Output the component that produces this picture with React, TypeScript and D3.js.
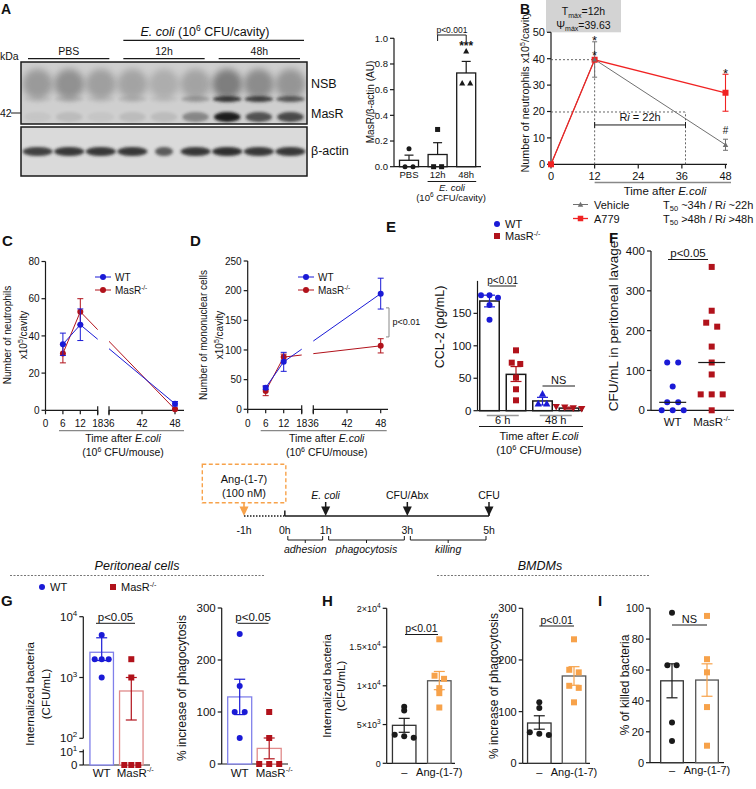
import React from 'react';
import * as d3 from 'd3';

const FONT = "'Liberation Sans', Arial, Helvetica, sans-serif";
const BLUE = '#1a1ad6';
const DRED = '#b1121b';
const ORANGE = '#f7a24a';
const RED = '#f02323';
const VGRAY = '#707070';
const K = '#1a1a1a';

// ---------------- DATA ----------------
// A: western blot – relative darkness of bands per lane
const blotLanes = ['PBS-1', 'PBS-2', 'PBS-3', '12h-1', '12h-2', '12h-3', '48h-1', '48h-2', '48h-3'];
const blotSmear = [0.55, 0.65, 0.5, 0.45, 0.35, 0.45, 0.85, 0.7, 0.6];
const blotNSB = [0.05, 0.1, 0.05, 0.1, 0.05, 0.25, 0.85, 0.8, 0.65];
const blotMasR = [0.05, 0.1, 0.05, 0.1, 0.1, 0.4, 1, 0.7, 0.75];
const blotActin = [0.85, 0.9, 0.9, 0.9, 0.7, 0.9, 0.95, 0.9, 0.9];
const blotGroups = ['PBS', '12h', '48h'];

// A: quantification
const aCats = ['PBS', '12h', '48h'];
const aMean = [0.05, 0.095, 0.73];
const aErrTop = [0.09, 0.187, 0.82];
const aPts = [[0.14, 0, 0], [0.29, 0, 0], [0.9, 0.65, 0.65]];
const aTicks = [0, 0.2, 0.4, 0.6, 0.8, 1.0];

// B
const bTimes = [0, 12, 48];
const bVehicle = [0, 39.7, 7.4];
const bVehicleErr = [0, 6.7, 2.1];
const bA779 = [0, 39.6, 27.1];
const bA779Err = [0, 0.5, 7];
const bTicksX = [0, 12, 24, 36, 48];
const bTicksY = [0, 10, 20, 30, 40, 50];
const bTmax = 12;
const bPsiMax = 39.63;
const bT50 = 37;
const bRiLevel = 14.9;
const bMarks = [
  { t: 12, v: 48.1, s: '*' },
  { t: 12, v: 42.4, s: '*' },
  { t: 48, v: 35.5, s: '*' },
  { t: 48, v: 12.7, s: '#' },
];

// C
const cTimes = [6, 12, 48];
const cWT = [35.5, 46, 3.5];
const cWTErr = [6, 8.5, 1.2];
const cMas = [30.5, 53, 0.5];
const cMasErr = [5, 7, 0.6];
const cTicksY = [0, 20, 40, 60, 80];
const xTicksA = [0, 6, 12, 18];
const xTicksB = [36, 42, 48];

// D
const dWT = [36.5, 80, 195];
const dWTErr = [3, 16, 26];
const dMas = [31, 88, 107];
const dMasErr = [8, 5, 12];
const dTicksY = [0, 50, 100, 150, 200, 250];
const dBracket = [122, 171];

// E
const eBars = ['WT 6 h', 'MasR 6 h', 'WT 48 h', 'MasR 48 h'];
const eMean = [169, 56, 15, 4];
const eErrTop = [178, 68, 20.6, 5.5];
const eErrBot = [160, 45, 8.8, 2.5];
const ePts = [[178, 174, 178, 163, 140], [93, 74, 72, 51, 33, 16], [26, 11, 11], [5, 6, 4, 3]];
const eTicksY = [0, 50, 100, 150];
const eGroups = ['6 h', '48 h'];

// F
const fCats = ['WT', 'MasR'];
const fWT = [0, 0, 0, 20, 20, 60, 120, 120];
const fMas = [0, 40, 40, 40, 90, 120, 160, 210, 220, 250, 360];
const fTicksY = [0, 100, 200, 300, 400];

// Timeline
const tlHours = [-1, 0, 1, 3, 5];
const tlEvents = [
  { h: 1, label: 'E. coli' },
  { h: 3, label: 'CFU/Abx' },
  { h: 5, label: 'CFU' },
];
const tlPhases = [
  { a: 0, b: 1, label: 'adhesion' },
  { a: 1, b: 3, label: 'phagocytosis' },
  { a: 3, b: 5, label: 'killing' },
];

// G
const gCats = ['WT', 'MasR'];
const gCfuMean = [2600, 600];
const gCfuErrTop = [4500, 1000];
const gCfuErrBot = [1900, 200];
const gCfuPts = [[5000, 2000, 2000, 2000, 1000], [2000, 1000, 0, 0, 0]];
const gPhMean = [129, 30];
const gPhErrTop = [163, 50];
const gPhErrBot = [95, 10];
const gPhPts = [[250, 150, 100, 100, 50], [100, 50, 0, 0, 0]];
const gPhTicks = [0, 100, 200, 300];

// H
const hCats = ['–', 'Ang-(1-7)'];
const hCfuMean = [4900, 10650];
const hCfuErrTop = [5800, 11850];
const hCfuErrBot = [4000, 9500];
const hCfuPts = [[7300, 6800, 3700, 3500, 3300], [16000, 11300, 10900, 9700, 9050, 7200]];
const hCfuTicks = [0, 5000, 10000, 15000, 20000];
const hCfuTickLabels = [['0', ''], ['5×10', '3'], ['1×10', '4'], ['1.5×10', '4'], ['2×10', '4']];
const hPhMean = [78, 169];
const hPhErrTop = [92, 187];
const hPhErrBot = [66, 151];
const hPhPts = [[118, 107, 60, 57, 55], [240, 181, 176, 150, 146, 118]];
const hPhTicks = [0, 100, 200, 300];

// I
const iMean = [53, 53.5];
const iErrTop = [64, 64];
const iErrBot = [42, 43];
const iPts = [[97, 63, 63, 26, 14], [95, 67, 58.5, 36, 11]];
const iTicks = [0, 20, 40, 60, 80, 100];

// ---------------- HELPERS ----------------
function swarm(vals: number[], ypx: (v: number) => number, s: number, thr: number) {
  const order = vals.map((_, i) => i).sort((a, b) => vals[b] - vals[a]);
  const off = vals.map(() => 0);
  let cl: number[] = [];
  const flush = () => {
    cl.forEach((id, k) => {
      off[id] = (k - (cl.length - 1) / 2) * s;
    });
    cl = [];
  };
  order.forEach((id) => {
    if (cl.length && Math.abs(ypx(vals[id]) - ypx(vals[cl[cl.length - 1]])) > thr) flush();
    cl.push(id);
  });
  flush();
  return off;
}

function Mk({ shape, x, y, s = 5.5, c }: any) {
  if (shape === 'circle') return <circle cx={x} cy={y} r={s / 2} fill={c} />;
  if (shape === 'square') return <rect x={x - s / 2} y={y - s / 2} width={s} height={s} fill={c} />;
  const h = s * 1.05;
  if (shape === 'tri')
    return <path d={`M${x},${y - h * 0.6}L${x + h * 0.58},${y + h * 0.45}L${x - h * 0.58},${y + h * 0.45}Z`} fill={c} />;
  return <path d={`M${x},${y + h * 0.6}L${x + h * 0.58},${y - h * 0.45}L${x - h * 0.58},${y - h * 0.45}Z`} fill={c} />;
}

function YAxis({ x, y, ticks, fmt, fs = 10, y0, y1, tl = 4 }: any) {
  const r = y.range ? y.range() : [0, 0];
  return (
    <g>
      <line x1={x} x2={x} y1={y0 ?? r[0]} y2={y1 ?? r[1]} stroke={K} strokeWidth={1.2} />
      {ticks.map((t: number, i: number) => (
        <g key={i}>
          <line x1={x - tl} x2={x} y1={y(t)} y2={y(t)} stroke={K} strokeWidth={1.2} />
          <text x={x - tl - 2} y={y(t)} dy="0.36em" textAnchor="end" fontSize={fs}>
            {fmt ? fmt(t, i) : t}
          </text>
        </g>
      ))}
    </g>
  );
}

function VLabel({ cx, cy, fs = 10, children, ...rest }: any) {
  return (
    <text transform={`translate(${cx + fs * 0.36},${cy}) rotate(-90)`} textAnchor="middle" fontSize={fs} {...rest}>
      {children}
    </text>
  );
}

function ErrBar({ x, yA, yB, cw, c, sw = 1.2 }: any) {
  return (
    <g stroke={c} strokeWidth={sw}>
      <line x1={x} x2={x} y1={yA} y2={yB} />
      <line x1={x - cw / 2} x2={x + cw / 2} y1={yB} y2={yB} />
    </g>
  );
}

function DotBars({ cats, xc, y, base, mean, errTop, errBot, pts, bw, stroke, errC, shape, mc, s, thr, ms = 5.5, cw, sw = 1.3 }: any) {
  return (
    <g>
      {cats.map((c: string, i: number) => {
        const cx = xc(c);
        const top = y(mean[i]);
        const offs = swarm(pts[i], y, s, thr);
        return (
          <g key={c}>
            <rect x={cx - bw / 2} y={top} width={bw} height={base - top} fill="#fff" stroke={stroke[i]} strokeWidth={sw} />
            {pts[i].map((v: number, j: number) => (
              <Mk key={j} shape={shape[i]} x={cx + offs[j]} y={y(v)} s={ms} c={mc[i]} />
            ))}
            <ErrBar x={cx} yA={top} yB={y(errTop[i])} cw={cw ?? bw * 0.5} c={errC[i]} />
            {errBot && errBot[i] != null && <ErrBar x={cx} yA={top} yB={y(errBot[i])} cw={cw ?? bw * 0.5} c={errC[i]} />}
          </g>
        );
      })}
    </g>
  );
}

function XAxisLine({ x0, x1, y }: any) {
  return <line x1={x0} x2={x1} y1={y} y2={y} stroke={K} strokeWidth={1.2} />;
}

function PVal({ x0, x1, y, text, fs = 10, legs = 0 }: any) {
  return (
    <g>
      <path d={`M${x0},${y + legs}V${y}H${x1}V${y + legs}`} fill="none" stroke={K} strokeWidth={1} />
      <text x={(x0 + x1) / 2} y={y - 2.5} textAnchor="middle" fontSize={fs}>
        {text}
      </text>
    </g>
  );
}

const MasRLabel = ({ fs = 10 }: any) => (
  <>
    <tspan>MasR</tspan>
    <tspan dy={-fs * 0.4} fontSize={fs * 0.65}>
      -/-
    </tspan>
  </>
);

// ---------------- PANELS ----------------
function PanelA() {
  const lane = d3.scaleBand().domain(blotLanes).range([21, 307]).padding(0.05);
  const grp = d3.scaleBand().domain(blotGroups).range([21, 307]).padding(0);
  return (
    <g>
      <defs>
        <filter id="bl3" x="-50%" y="-50%" width="200%" height="200%">
          <feGaussianBlur stdDeviation="3.5" />
        </filter>
        <filter id="bl1" x="-50%" y="-50%" width="200%" height="200%">
          <feGaussianBlur stdDeviation="1.6" />
        </filter>
        <clipPath id="blotTop">
          <rect x={21} y={62} width={286} height={62} />
        </clipPath>
        <clipPath id="blotBot">
          <rect x={21} y={127} width={286} height={49} />
        </clipPath>
      </defs>
      <text x={1} y={14} fontSize={14} fontWeight="bold">A</text>
      <text x={205} y={36} textAnchor="middle" fontSize={12.5}>
        <tspan fontStyle="italic">E. coli</tspan>
        <tspan> (10</tspan>
        <tspan dy={-5} fontSize={8.5}>6</tspan>
        <tspan dy={5}> CFU/cavity)</tspan>
      </text>
      <line x1={grp('12h')! + 7} x2={307 - 3} y1={40.3} y2={40.3} stroke={K} strokeWidth={1.2} />
      <text x={0} y={60} fontSize={10.5}>kDa</text>
      {blotGroups.map((g) => (
        <g key={g}>
          <text x={grp(g)! + grp.bandwidth() / 2} y={55} textAnchor="middle" fontSize={10.5}>
            {g}
          </text>
          <line x1={grp(g)! + 7} x2={grp(g)! + grp.bandwidth() - 7} y1={58.7} y2={58.7} stroke={K} strokeWidth={1.2} />
        </g>
      ))}
      <g clipPath="url(#blotTop)">
        <rect x={21} y={62} width={286} height={62} fill="#cfcfcf" />
        {blotLanes.map((l, i) => (
          <g key={l}>
            <ellipse cx={lane(l)! + lane.bandwidth() / 2} cy={84} rx={lane.bandwidth() * 0.5} ry={15} fill="#707070" opacity={blotSmear[i]} filter="url(#bl3)" />
            <ellipse cx={lane(l)! + lane.bandwidth() / 2} cy={99} rx={lane.bandwidth() * 0.48} ry={3} fill="#222" opacity={blotNSB[i]} filter="url(#bl1)" />
            <ellipse cx={lane(l)! + lane.bandwidth() / 2} cy={117} rx={lane.bandwidth() * 0.44} ry={5} fill="#1a1a1a" opacity={blotMasR[i]} filter="url(#bl1)" />
          </g>
        ))}
      </g>
      <rect x={21} y={62} width={286} height={62} fill="none" stroke={K} strokeWidth={1.5} />
      <g clipPath="url(#blotBot)">
        <rect x={21} y={127} width={286} height={49} fill="#dadada" />
        {blotLanes.map((l, i) => (
          <ellipse key={l} cx={lane(l)! + lane.bandwidth() / 2} cy={151.5} rx={lane.bandwidth() * (i === 4 ? 0.3 : 0.5)} ry={4.5} fill="#262626" opacity={blotActin[i]} filter="url(#bl1)" />
        ))}
      </g>
      <rect x={21} y={127} width={286} height={49} fill="none" stroke={K} strokeWidth={1.5} />
      <text x={0} y={117} fontSize={10.5}>42</text>
      <line x1={11} x2={21} y1={113} y2={113} stroke={K} strokeWidth={1} />
      <text x={311} y={88} fontSize={12.5}>NSB</text>
      <text x={311} y={118} fontSize={12.5}>MasR</text>
      <text x={311} y={155} fontSize={12.5}>β-actin</text>
    </g>
  );
}

function PanelAQuant() {
  const y = d3.scaleLinear().domain([0, 1]).range([166.7, 38.3]);
  const xc = d3.scalePoint().domain(aCats).range([409, 466.2]);
  const fmt = d3.format('.1f');
  return (
    <g>
      <YAxis x={394} y={y} ticks={aTicks} fmt={(t: number) => fmt(t)} fs={9.5} />
      <XAxisLine x0={394} x1={481} y={166.7} />
      <DotBars cats={aCats} xc={xc} y={y} base={166.7} mean={aMean} errTop={aErrTop} pts={aPts} bw={19} stroke={[K, K, K]} errC={[K, K, K]} shape={['circle', 'square', 'tri']} mc={[K, K, K]} s={8} thr={3} ms={5} cw={9} />
      {aCats.map((c) => (
        <text key={c} x={xc(c)} y={178} textAnchor="middle" fontSize={9.5}>
          {c}
        </text>
      ))}
      <line x1={xc('12h')! - 10} x2={xc('48h')! + 10} y1={181.5} y2={181.5} stroke={K} strokeWidth={1} />
      <text x={452} y={191} textAnchor="middle" fontSize={9.5} fontStyle="italic">E. coli</text>
      <text x={451} y={201} textAnchor="middle" fontSize={9.5}>
        <tspan>(10</tspan>
        <tspan dy={-4} fontSize={6.5}>6</tspan>
        <tspan dy={4}> CFU/cavity)</tspan>
      </text>
      <PVal x0={xc('12h')} x1={xc('48h')} y={35} text="p<0.001" fs={8.5} legs={6} />
      <text x={xc('48h')} y={y(0.96) + 7} textAnchor="middle" fontSize={12} fontWeight="bold">***</text>
      <VLabel cx={370} cy={102} fs={10}>MasR/β-actin (AU)</VLabel>
    </g>
  );
}

function PanelB() {
  const x = d3.scaleLinear().domain([0, 48]).range([551, 725.5]);
  const y = d3.scaleLinear().domain([0, 50]).range([164.3, 32.3]);
  const line = d3.line<number>().x((_, i) => x(bTimes[i])).y((d) => y(d));
  const dash = { stroke: '#555', strokeWidth: 0.9, strokeDasharray: '2,2' };
  return (
    <g>
      <text x={520} y={14} fontSize={14} fontWeight="bold">B</text>
      <rect x={546} y={0} width={75} height={32.3} fill="#d3d3d3" />
      <text x={583.5} y={15} textAnchor="middle" fontSize={10.5}>
        <tspan>T</tspan>
        <tspan dy={2.5} fontSize={7}>máx</tspan>
        <tspan dy={-2.5}>={bTmax}h</tspan>
      </text>
      <text x={583.5} y={28.5} textAnchor="middle" fontSize={10.5}>
        <tspan>Ψ</tspan>
        <tspan dy={2.5} fontSize={7}>máx</tspan>
        <tspan dy={-2.5}>={bPsiMax}</tspan>
      </text>
      <YAxis x={551} y={y} ticks={bTicksY} fs={11} />
      <XAxisLine x0={551} x1={727} y={164.3} />
      {bTicksX.map((t) => (
        <g key={t}>
          <line x1={x(t)} x2={x(t)} y1={164.3} y2={168.5} stroke={K} strokeWidth={1.2} />
          <text x={x(t)} y={180} textAnchor="middle" fontSize={11}>
            {t}
          </text>
        </g>
      ))}
      <line x1={x(12)} x2={731} y1={182.5} y2={182.5} stroke="#888" strokeWidth={1.3} />
      <text x={665} y={194.5} textAnchor="middle" fontSize={11.5}>
        <tspan>Time after </tspan>
        <tspan fontStyle="italic">E.coli</tspan>
      </text>
      <VLabel cx={525} cy={92} fs={10.8}>
        <tspan>Number of neutrophils x10</tspan>
        <tspan dy={-4} fontSize={7}>5</tspan>
        <tspan dy={4}>/cavity</tspan>
      </VLabel>
      {/* reference lines */}
      <line x1={551} x2={x(bTmax)} y1={y(bPsiMax)} y2={y(bPsiMax)} {...dash} />
      <line x1={x(bTmax)} x2={x(bTmax)} y1={y(0)} y2={y(bPsiMax)} {...dash} />
      <line x1={551} x2={x(bT50)} y1={y(bPsiMax / 2)} y2={y(bPsiMax / 2)} {...dash} />
      <line x1={x(bT50)} x2={x(bT50)} y1={y(0)} y2={y(bPsiMax / 2)} {...dash} />
      <path d={`M${x(bTmax)},${y(bRiLevel) - 3}V${y(bRiLevel) + 3}M${x(bTmax)},${y(bRiLevel)}H${x(bT50)}M${x(bT50)},${y(bRiLevel) - 3}V${y(bRiLevel) + 3}`} stroke={K} strokeWidth={1} fill="none" />
      <text x={(x(bTmax) + x(bT50)) / 2} y={y(bRiLevel) - 3.5} textAnchor="middle" fontSize={11}>
        <tspan>R</tspan>
        <tspan fontStyle="italic">i</tspan>
        <tspan> = 22h</tspan>
      </text>
      {/* series */}
      <path d={line(bVehicle)!} fill="none" stroke={VGRAY} strokeWidth={1} />
      <path d={line(bA779)!} fill="none" stroke={RED} strokeWidth={1.3} />
      {bTimes.map((t, i) => (
        <g key={t}>
          {bVehicleErr[i] > 0 && (
            <>
              <ErrBar x={x(t)} yA={y(bVehicle[i])} yB={y(bVehicle[i] + bVehicleErr[i])} cw={5} c={VGRAY} sw={1} />
              <ErrBar x={x(t)} yA={y(bVehicle[i])} yB={y(bVehicle[i] - bVehicleErr[i])} cw={5} c={VGRAY} sw={1} />
            </>
          )}
          {bA779Err[i] > 1 && (
            <>
              <ErrBar x={x(t)} yA={y(bA779[i])} yB={y(bA779[i] + bA779Err[i])} cw={6} c={RED} sw={1.1} />
              <ErrBar x={x(t)} yA={y(bA779[i])} yB={y(bA779[i] - bA779Err[i])} cw={6} c={RED} sw={1.1} />
            </>
          )}
          <Mk shape="tri" x={x(t)} y={y(bVehicle[i])} s={4.5} c={VGRAY} />
          <Mk shape="square" x={x(t)} y={y(bA779[i])} s={6} c={RED} />
        </g>
      ))}
      <Mk shape="tri" x={x(12)} y={y(bVehicle[1])} s={4} c={VGRAY} />
      {bMarks.map((m, i) => (
        <text key={i} x={x(m.t)} y={y(m.v) + (m.s === '*' ? 7.5 : 3.5)} textAnchor="middle" fontSize={m.s === '*' ? 13 : 10}>
          {m.s}
        </text>
      ))}
      {/* legend */}
      <line x1={573} x2={588} y1={204.5} y2={204.5} stroke={VGRAY} strokeWidth={1} />
      <Mk shape="tri" x={580.5} y={204.5} s={4.5} c={VGRAY} />
      <text x={594} y={208.5} fontSize={11}>Vehicle</text>
      <text x={663} y={208.5} fontSize={11}>
        <tspan>T</tspan>
        <tspan dy={2.5} fontSize={7.5}>50</tspan>
        <tspan dy={-2.5}> ~34h / R</tspan>
        <tspan fontStyle="italic">i</tspan>
        <tspan> ~22h</tspan>
      </text>
      <line x1={573} x2={588} y1={218.5} y2={218.5} stroke={RED} strokeWidth={1.3} />
      <Mk shape="square" x={580.5} y={218.5} s={5.5} c={RED} />
      <text x={594} y={222.5} fontSize={11}>A779</text>
      <text x={663} y={222.5} fontSize={11}>
        <tspan>T</tspan>
        <tspan dy={2.5} fontSize={7.5}>50</tspan>
        <tspan dy={-2.5}> &gt;48h / R</tspan>
        <tspan fontStyle="italic">i</tspan>
        <tspan> &gt;48h</tspan>
      </text>
    </g>
  );
}

function BrokenPanel({ id, letter, lx, y, x1, x2, yTicks, seg2End, series, legendX, ylab1, ylabX, titleX, grayLine, children }: any) {
  const x = (t: number) => (t <= 18 ? x1(t) : x2(t));
  const y0 = y(0);
  const ax = x1(0);
  const brk1 = x1(18);
  const brk2 = x2(36);
  const line = d3.line<any>().x((d) => x(d[0])).y((d) => y(d[1]));
  return (
    <g>
      <defs>
        <clipPath id={id}>
          <rect x={0} y={0} width={brk1} height={789} />
          <rect x={brk2} y={0} width={756 - brk2} height={789} />
        </clipPath>
      </defs>
      <text x={lx} y={246} fontSize={15} fontWeight="bold">{letter}</text>
      <YAxis x={ax} y={y} ticks={yTicks} fs={10} />
      <XAxisLine x0={ax} x1={brk1} y={y0} />
      <XAxisLine x0={brk2} x1={seg2End} y={y0} />
      {[brk1, brk2].map((bx, i) => (
        <line key={i} x1={bx} x2={bx} y1={y0 - 4} y2={y0 + 5} stroke={K} strokeWidth={1.2} />
      ))}
      {[...xTicksA, ...xTicksB].map((t) => (
        <g key={t}>
          <line x1={x(t)} x2={x(t)} y1={y0} y2={y0 + 4} stroke={K} strokeWidth={1.2} />
          <text x={x(t)} y={426.5} textAnchor="middle" fontSize={10}>
            {t}
          </text>
        </g>
      ))}
      <line x1={grayLine[0]} x2={grayLine[1]} y1={430.7} y2={430.7} stroke="#888" strokeWidth={1.3} />
      <text x={titleX} y={441.5} textAnchor="middle" fontSize={10.5}>
        <tspan>Time after </tspan>
        <tspan fontStyle="italic">E.coli</tspan>
      </text>
      <text x={titleX} y={456} textAnchor="middle" fontSize={10.5}>
        <tspan>(10</tspan>
        <tspan dy={-4} fontSize={7}>6</tspan>
        <tspan dy={4}> CFU/mouse)</tspan>
      </text>
      <VLabel cx={ylabX[0]} cy={335} fs={10}>{ylab1}</VLabel>
      <VLabel cx={ylabX[1]} cy={335} fs={10}>
        <tspan>x10</tspan>
        <tspan dy={-4} fontSize={7}>5</tspan>
        <tspan dy={4}>/cavity</tspan>
      </VLabel>
      {series.map((s: any, k: number) => (
        <g key={k}>
          <path d={line(cTimes.map((t, i) => [t, s.vals[i]]))!} fill="none" stroke={s.color} strokeWidth={1} clipPath={`url(#${id})`} />
          {cTimes.map((t, i) => (
            <g key={t}>
              <ErrBar x={x(t)} yA={y(s.vals[i])} yB={y(s.vals[i] + s.err[i])} cw={6} c={s.color} sw={1} />
              <ErrBar x={x(t)} yA={y(s.vals[i])} yB={y(Math.max(0, s.vals[i] - s.err[i]))} cw={6} c={s.color} sw={1} />
              <Mk shape="circle" x={x(t)} y={y(s.vals[i])} s={6} c={s.color} />
            </g>
          ))}
        </g>
      ))}
      {/* legend */}
      {[
        { c: BLUE, label: 'WT', yy: 277 },
        { c: DRED, label: 'MasR', yy: 290 },
      ].map((l) => (
        <g key={l.label}>
          <line x1={legendX} x2={legendX + 16} y1={l.yy} y2={l.yy} stroke={l.c} strokeWidth={1} />
          <circle cx={legendX + 8} cy={l.yy} r={3} fill={l.c} />
          <text x={legendX + 20} y={l.yy + 3.5} fontSize={10}>
            {l.label === 'WT' ? 'WT' : <MasRLabel fs={10} />}
          </text>
        </g>
      ))}
      {children}
    </g>
  );
}

function PanelC() {
  const y = d3.scaleLinear().domain([0, 80]).range([410.3, 261.5]);
  const x1 = d3.scaleLinear().domain([0, 18]).range([45.5, 97.7]);
  const x2 = d3.scaleLinear().domain([36, 48]).range([109, 175]);
  return (
    <BrokenPanel
      id="clipC" letter="C" lx={2} y={y} x1={x1} x2={x2} yTicks={cTicksY} seg2End={184}
      series={[{ vals: cMas, err: cMasErr, color: DRED }, { vals: cWT, err: cWTErr, color: BLUE }]}
      legendX={95} ylab1="Number of neutrophils" ylabX={[7, 23]} titleX={123} grayLine={[59, 184]}
    />
  );
}

function PanelD() {
  const y = d3.scaleLinear().domain([0, 250]).range([409.3, 261]);
  const x1 = d3.scaleLinear().domain([0, 18]).range([247.7, 301.7]);
  const x2 = d3.scaleLinear().domain([36, 48]).range([313.3, 380.7]);
  return (
    <BrokenPanel
      id="clipD" letter="D" lx={190} y={y} x1={x1} x2={x2} yTicks={dTicksY} seg2End={388}
      series={[{ vals: dMas, err: dMasErr, color: DRED }, { vals: dWT, err: dWTErr, color: BLUE }]}
      legendX={298} ylab1="Number of mononuclear cells" ylabX={[203, 219.3]} titleX={326.7} grayLine={[260.7, 386.7]}
    >
      <path d={`M386,${y(dBracket[1])}H389V${y(dBracket[0])}H386`} fill="none" stroke="#888" strokeWidth={1} />
      <text x={392.5} y={(y(dBracket[0]) + y(dBracket[1])) / 2 + 3} fontSize={9}>p&lt;0.01</text>
    </BrokenPanel>
  );
}

function PanelE() {
  const y = d3.scaleLinear().domain([0, 200]).range([410.7, 280.9]);
  const xb = d3.scalePoint().domain(eBars).range([489.5, 569]);
  const base = y(0);
  const gx = [(xb(eBars[0])! + xb(eBars[1])!) / 2, (xb(eBars[2])! + xb(eBars[3])!) / 2];
  return (
    <g>
      <text x={386} y={232} fontSize={15} fontWeight="bold">E</text>
      <circle cx={497} cy={224} r={3} fill={BLUE} />
      <text x={505} y={228} fontSize={11}>WT</text>
      <rect x={494} y={233} width={6} height={6} fill={DRED} />
      <text x={505} y={240} fontSize={11}><MasRLabel fs={11} /></text>
      <YAxis x={477.5} y={y} ticks={eTicksY} fs={11.5} />
      <XAxisLine x0={477.5} x1={583} y={base} />
      <DotBars
        cats={eBars} xc={xb} y={y} base={base} mean={eMean} errTop={eErrTop} errBot={eErrBot} pts={ePts} bw={19.5}
        stroke={[K, K, K, K]} errC={[BLUE, DRED, BLUE, DRED]} shape={['circle', 'square', 'tri', 'trid']}
        mc={[BLUE, DRED, BLUE, DRED]} s={8.5} thr={3} ms={6} cw={11} sw={1.5}
      />
      {eGroups.map((g, i) => (
        <g key={g}>
          <line x1={gx[i] - 16} x2={gx[i] + 16} y1={415.5} y2={415.5} stroke="#999" strokeWidth={1.5} />
          <text x={gx[i]} y={424} textAnchor="middle" fontSize={11}>{g}</text>
        </g>
      ))}
      <line x1={479} x2={583} y1={426.5} y2={426.5} stroke={K} strokeWidth={1.2} />
      <text x={539} y={440} textAnchor="middle" fontSize={11}>
        <tspan>Time after </tspan>
        <tspan fontStyle="italic">E.coli</tspan>
      </text>
      <text x={539} y={454} textAnchor="middle" fontSize={11}>
        <tspan>(10</tspan>
        <tspan dy={-4} fontSize={7.5}>6</tspan>
        <tspan dy={4}> CFU/mouse)</tspan>
      </text>
      <PVal x0={xb(eBars[0])} x1={xb(eBars[1])} y={286} text="p<0.01" fs={10} />
      <PVal x0={xb(eBars[2])} x1={xb(eBars[3])! + 6} y={386} text="NS" fs={11} />
      <VLabel cx={439} cy={327} fs={12.5}>CCL-2 (pg/mL)</VLabel>
    </g>
  );
}

function PanelF() {
  const y = d3.scaleLinear().domain([0, 400]).range([410.3, 251]);
  const xc = d3.scalePoint().domain(fCats).range([672.7, 711.7]);
  const groups = [
    { c: 'WT', vals: fWT, color: BLUE, shape: 'circle' },
    { c: 'MasR', vals: fMas, color: DRED, shape: 'square' },
  ];
  return (
    <g>
      <text x={609} y={243} fontSize={15} fontWeight="bold">F</text>
      <YAxis x={651} y={y} ticks={fTicksY} fs={11.5} />
      <XAxisLine x0={651} x1={734} y={410.3} />
      {groups.map((g) => {
        const offs = swarm(g.vals, y, 11, 5);
        const med = d3.median(g.vals)!;
        return (
          <g key={g.c}>
            {g.vals.map((v, j) => (
              <Mk key={j} shape={g.shape} x={xc(g.c)! + offs[j]} y={y(v)} s={6} c={g.color} />
            ))}
            <line x1={xc(g.c)! - 13.5} x2={xc(g.c)! + 13.5} y1={y(med)} y2={y(med)} stroke={K} strokeWidth={1.2} />
          </g>
        );
      })}
      <text x={xc('WT')} y={426} textAnchor="middle" fontSize={11.5}>WT</text>
      <text x={xc('MasR')} y={426} textAnchor="middle" fontSize={11.5}><MasRLabel fs={11.5} /></text>
      <PVal x0={668} x1={708} y={259.5} text="p<0.05" fs={11.5} />
      <VLabel cx={613} cy={326} fs={13.5}>CFU/mL in peritoneal lavage</VLabel>
    </g>
  );
}

function Timeline() {
  const x = d3.scaleLinear().domain([-1, 5]).range([244, 489]);
  const yl = 516;
  const tri = (cx: number, yTop: number, yTip: number) => `M${cx - 4.5},${yTop}L${cx + 4.5},${yTop}L${cx},${yTip}Z`;
  return (
    <g fontSize={10.5}>
      <rect x={x(-1) - 41.7} y={464.3} width={x(0) - x(-1) + 42.7} height={38.4} fill="none" stroke={ORANGE} strokeWidth={1.4} strokeDasharray="4,2.5" />
      <text x={x(-1)} y={483} textAnchor="middle" fontSize={11}>Ang-(1-7)</text>
      <text x={x(-1)} y={496.5} textAnchor="middle" fontSize={11}>(100 nM)</text>
      <line x1={x(-1)} x2={x(-1)} y1={502.7} y2={508} stroke={ORANGE} strokeWidth={1.6} />
      <path d={tri(x(-1), 506.5, 516)} fill={ORANGE} />
      <line x1={x(-1)} x2={x(0)} y1={yl} y2={yl} stroke={K} strokeWidth={1.3} strokeDasharray="1.5,1.5" />
      <line x1={x(0)} x2={x(5)} y1={yl} y2={yl} stroke={K} strokeWidth={1.5} />
      {[0, 5].map((h) => (
        <line key={h} x1={x(h)} x2={x(h)} y1={510.5} y2={yl} stroke={K} strokeWidth={1.5} />
      ))}
      {tlEvents.map((e) => (
        <g key={e.label}>
          <text x={x(e.h)} y={499} textAnchor="middle" fontStyle={e.h === 1 ? 'italic' : 'normal'}>{e.label}</text>
          <line x1={x(e.h)} x2={x(e.h)} y1={502} y2={508} stroke={K} strokeWidth={1.5} />
          <path d={tri(x(e.h), 506.5, 516)} fill={K} />
        </g>
      ))}
      {tlHours.map((h) => (
        <text key={h} x={x(h)} y={533.5} textAnchor="middle">{`${h}h`}</text>
      ))}
      {tlPhases.map((p) => {
        const a = x(p.a) + 3;
        const b = x(p.b) - 3;
        return (
          <g key={p.label}>
            <path d={`M${a},536V540H${b}V536M${(a + b) / 2},540V543`} fill="none" stroke={K} strokeWidth={1} />
            <text x={(a + b) / 2} y={553} textAnchor="middle" fontStyle="italic">{p.label}</text>
          </g>
        );
      })}
    </g>
  );
}

function Headers() {
  return (
    <g>
      <text x={137} y={570} textAnchor="middle" fontSize={12.5} fontStyle="italic">Peritoneal cells</text>
      <line x1={10} x2={265} y1={575.5} y2={575.5} stroke="#777" strokeWidth={1} strokeDasharray="2,1.5" />
      <text x={540} y={570} textAnchor="middle" fontSize={12.5} fontStyle="italic">BMDMs</text>
      <line x1={437} x2={650} y1={575.5} y2={575.5} stroke="#777" strokeWidth={1} strokeDasharray="2,1.5" />
      <circle cx={42} cy={587} r={3} fill={BLUE} />
      <text x={50} y={591} fontSize={11}>WT</text>
      <rect x={110} y={584} width={6} height={6} fill={DRED} />
      <text x={121} y={591} fontSize={11}><MasRLabel fs={11} /></text>
    </g>
  );
}

function PanelG() {
  const log = d3.scaleLog().domain([100, 10000]).range([738.3, 616.7]);
  const lin = d3.scaleLinear().domain([0, 10]).range([765, 751.7]);
  const y = (v: number) => (v >= 100 ? log(v) : lin(v));
  const xc = d3.scalePoint().domain(gCats).range([101.7, 131.3]);
  const y2 = d3.scaleLinear().domain([0, 300]).range([764, 608]);
  const xc2 = d3.scalePoint().domain(gCats).range([239.7, 269.2]);
  const sup = (b: string, e: string) => (
    <>
      <tspan>{b}</tspan>
      <tspan dy={-5} fontSize={8}>{e}</tspan>
    </>
  );
  return (
    <g>
      <text x={1} y={606} fontSize={15} fontWeight="bold">G</text>
      {/* left: CFU */}
      <YAxis x={83.3} y={log} ticks={[10000, 1000, 100]} fmt={(t: number) => sup('10', String(Math.round(Math.log10(t))))} fs={11.5} y0={738.3} y1={616.7} />
      <YAxis x={83.3} y={lin} ticks={[10, 0]} fmt={(t: number) => (t === 0 ? '0' : sup('10', '1'))} fs={11.5} y0={765} y1={749.5} />
      <XAxisLine x0={83.3} x1={150} y={765} />
      <DotBars
        cats={gCats} xc={xc} y={y} base={765} mean={gCfuMean} errTop={gCfuErrTop} errBot={gCfuErrBot} pts={gCfuPts} bw={23.5}
        stroke={['#8080ea', '#e08a8a']} errC={[BLUE, DRED]} shape={['circle', 'square']} mc={[BLUE, DRED]} s={7} thr={3.5} ms={6} cw={11}
      />
      <text x={xc('WT')} y={777} textAnchor="middle" fontSize={11.5}>WT</text>
      <text x={xc('MasR')! + 4} y={777} textAnchor="middle" fontSize={11.5}><MasRLabel fs={11.5} /></text>
      <PVal x0={96} x1={135} y={623.3} text="p<0.05" fs={11.5} />
      <VLabel cx={30} cy={694} fs={11.5}>Internalized bacteria</VLabel>
      <VLabel cx={46} cy={694} fs={11.5}>(CFU/mL)</VLabel>
      {/* right: % phagocytosis */}
      <YAxis x={221.7} y={y2} ticks={gPhTicks} fs={11.5} />
      <XAxisLine x0={221.7} x1={288} y={764} />
      <DotBars
        cats={gCats} xc={xc2} y={y2} base={764} mean={gPhMean} errTop={gPhErrTop} errBot={gPhErrBot} pts={gPhPts} bw={24}
        stroke={['#8080ea', '#e08a8a']} errC={[BLUE, DRED]} shape={['circle', 'square']} mc={[BLUE, DRED]} s={10} thr={3.5} ms={6} cw={11}
      />
      <text x={xc2('WT')} y={777} textAnchor="middle" fontSize={11.5}>WT</text>
      <text x={xc2('MasR')! + 5} y={777} textAnchor="middle" fontSize={11.5}><MasRLabel fs={11.5} /></text>
      <PVal x0={237.6} x1={268.5} y={623.3} text="p<0.05" fs={11.5} />
      <VLabel cx={181.7} cy={688} fs={12}>% increase of phagocytosis</VLabel>
    </g>
  );
}

function PanelH() {
  const y = d3.scaleLinear().domain([0, 20000]).range([763.3, 608.3]);
  const xc = d3.scalePoint().domain(hCats).range([404.2, 439.3]);
  const y2 = d3.scaleLinear().domain([0, 300]).range([763.3, 608.3]);
  const xc2 = d3.scalePoint().domain(hCats).range([539.3, 574]);
  return (
    <g>
      <text x={322} y={606} fontSize={15} fontWeight="bold">H</text>
      <YAxis
        x={386.7} y={y} ticks={hCfuTicks} fs={9}
        fmt={(t: number, i: number) => (
          <>
            <tspan>{hCfuTickLabels[i][0]}</tspan>
            {hCfuTickLabels[i][1] && <tspan dy={-4} fontSize={6.5}>{hCfuTickLabels[i][1]}</tspan>}
          </>
        )}
      />
      <XAxisLine x0={386.7} x1={455} y={763.3} />
      <DotBars
        cats={hCats} xc={xc} y={y} base={763.3} mean={hCfuMean} errTop={hCfuErrTop} errBot={hCfuErrBot} pts={hCfuPts} bw={23.5}
        stroke={['#333', '#555']} errC={[K, ORANGE]} shape={['circle', 'square']} mc={[K, ORANGE]} s={9.5} thr={3.5} ms={6} cw={11}
      />
      {hCats.map((c) => (
        <text key={c} x={xc(c)} y={775.5} textAnchor="middle" fontSize={11}>{c}</text>
      ))}
      <PVal x0={405} x1={438} y={634.5} text="p<0.01" fs={10.5} />
      <VLabel cx={326.7} cy={686} fs={11.5}>Internalized bacteria</VLabel>
      <VLabel cx={341} cy={686} fs={11.5}>(CFU/mL)</VLabel>

      <YAxis x={522.7} y={y2} ticks={hPhTicks} fs={11} />
      <XAxisLine x0={522.7} x1={590} y={763.3} />
      <DotBars
        cats={hCats} xc={xc2} y={y2} base={763.3} mean={hPhMean} errTop={hPhErrTop} errBot={hPhErrBot} pts={hPhPts} bw={23.5}
        stroke={['#333', '#555']} errC={[K, ORANGE]} shape={['circle', 'square']} mc={[K, ORANGE]} s={9.5} thr={3.5} ms={6} cw={11}
      />
      {hCats.map((c) => (
        <text key={c} x={xc2(c)} y={775.5} textAnchor="middle" fontSize={11}>{c}</text>
      ))}
      <PVal x0={539.3} x1={574} y={626} text="p<0.01" fs={10.5} />
      <VLabel cx={493.3} cy={686} fs={12}>% increase of phagocytosis</VLabel>
    </g>
  );
}

function PanelI() {
  const y = d3.scaleLinear().domain([0, 100]).range([762.7, 608.2]);
  const xc = d3.scalePoint().domain(hCats).range([672, 707]);
  return (
    <g>
      <text x={598} y={606} fontSize={15} fontWeight="bold">I</text>
      <YAxis x={650} y={y} ticks={iTicks} fs={11} />
      <XAxisLine x0={650} x1={724} y={762.7} />
      <DotBars
        cats={hCats} xc={xc} y={y} base={762.7} mean={iMean} errTop={iErrTop} errBot={iErrBot} pts={iPts} bw={22.6}
        stroke={['#333', '#555']} errC={[K, ORANGE]} shape={['circle', 'square']} mc={[K, ORANGE]} s={9.3} thr={3.5} ms={6} cw={11}
      />
      {hCats.map((c) => (
        <text key={c} x={xc(c)} y={774} textAnchor="middle" fontSize={11}>{c}</text>
      ))}
      <PVal x0={672} x1={707} y={625} text="NS" fs={11} />
      <VLabel cx={625} cy={685} fs={12}>% of killed bacteria</VLabel>
    </g>
  );
}

export default function App() {
  return (
    <svg
      width={756}
      height={789}
      viewBox="0 0 756 789"
      style={{ position: 'absolute', left: 0, top: 0, background: '#fff' }}
      fontFamily={FONT}
      fill="#111"
    >
      <rect width={756} height={789} fill="#fff" />
      <PanelA />
      <PanelAQuant />
      <PanelB />
      <PanelC />
      <PanelD />
      <PanelE />
      <PanelF />
      <Timeline />
      <Headers />
      <PanelG />
      <PanelH />
      <PanelI />
    </svg>
  );
}
